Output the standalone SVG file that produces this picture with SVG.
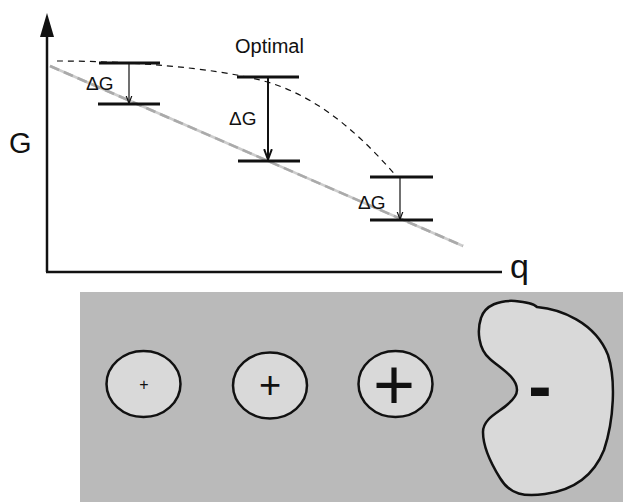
<svg xmlns="http://www.w3.org/2000/svg" width="623" height="503" viewBox="0 0 623 503">
<style>
text{font-family:"Liberation Sans",Arial,sans-serif;fill:#111}
.axis{stroke:#111;stroke-width:2.5;fill:none}
.bar{stroke:#111;stroke-width:3;fill:none}
.arr{stroke:#111;fill:none}
.shape{fill:#d9d9d9;stroke:#111;stroke-width:2.5}
</style>
<defs>
<marker id="ah" viewBox="0 0 10 10" refX="9" refY="5" markerWidth="8" markerHeight="8" orient="auto" markerUnits="userSpaceOnUse">
<path d="M0,1.5 L9.5,5 L0,8.5" fill="none" stroke="#111" stroke-width="1.5"/>
</marker>
<marker id="ah2" viewBox="0 0 10 10" refX="9" refY="5" markerWidth="11" markerHeight="11" orient="auto" markerUnits="userSpaceOnUse">
<path d="M0,1.5 L9.5,5 L0,8.5" fill="none" stroke="#111" stroke-width="1.8"/>
</marker>
</defs>
<rect width="623" height="503" fill="#fff"/>
<g id="axes">
<line class="axis" x1="47" y1="30" x2="47" y2="272"/>
<polygon points="47,13 40,37 54,37" fill="#111"/>
<line class="axis" x1="46" y1="272" x2="502" y2="272"/>
<text x="9" y="153" font-size="29">G</text>
<text x="510" y="278" font-size="34">q</text>
</g>
<g id="curves">
<line x1="50" y1="66" x2="463" y2="246" stroke="#cdcdcd" stroke-width="2.6"/>
<line x1="50" y1="66" x2="463" y2="246" stroke="#aaaaaa" stroke-width="2.6" stroke-dasharray="10,5"/>
<path d="M57,61 C130,61 210,67.5 260,80 C320,95 365,140 397,177" fill="none" stroke="#111" stroke-width="1.2" stroke-dasharray="6,5"/>
<text x="235" y="53" font-size="20">Optimal</text>
</g>
<g id="level1">
<line class="bar" x1="99" y1="63" x2="160" y2="63"/>
<line class="bar" x1="98" y1="104" x2="160" y2="104"/>
<line class="arr" x1="129" y1="63" x2="129" y2="103" stroke-width="1.2" marker-end="url(#ah)"/>
<text x="86" y="90" font-size="19">ΔG</text>
</g>
<g id="level2">
<line class="bar" x1="237" y1="77" x2="299" y2="77"/>
<line class="bar" x1="238" y1="161" x2="300" y2="161"/>
<line class="arr" x1="268" y1="77" x2="268" y2="159" stroke-width="2" marker-end="url(#ah2)"/>
<text x="229" y="125" font-size="19">ΔG</text>
</g>
<g id="level3">
<line class="bar" x1="370" y1="177" x2="433" y2="177"/>
<line class="bar" x1="370" y1="220" x2="433" y2="220"/>
<line class="arr" x1="400" y1="177" x2="400" y2="219" stroke-width="1.2" marker-end="url(#ah)"/>
<text x="358" y="209" font-size="19">ΔG</text>
</g>
<g id="panel">
<rect x="80" y="292" width="543" height="210" fill="#bababa"/>
</g>
<g id="ion1">
<ellipse class="shape" cx="143.5" cy="384" rx="37" ry="33"/>
<text x="144" y="390" font-size="16" text-anchor="middle">+</text>
</g>
<g id="ion2">
<ellipse class="shape" cx="270" cy="385.5" rx="37" ry="33"/>
<text x="270" y="398" font-size="38" text-anchor="middle">+</text>
</g>
<g id="ion3">
<ellipse class="shape" cx="395.5" cy="384" rx="37" ry="33"/>
<text x="394" y="409" font-size="72" text-anchor="middle">+</text>
</g>
<g id="receptor">
<path class="shape" d="M517,390 C517,377 500,368 490,359 C478,349 477,330 481,318 C485,305 500,300 515,301 C525,302 533,303 537,307 C560,309 595,322 608,355 C616,380 614,420 604,450 C594,475 575,490 545,494 C525,497 510,495 500,478 C490,462 483,447 483,432 C483,418 500,412 508,404 C515,398 517,394 517,390 Z"/>
<text x="540" y="410" font-size="70" font-weight="bold" text-anchor="middle">-</text>
</g>
</svg>
